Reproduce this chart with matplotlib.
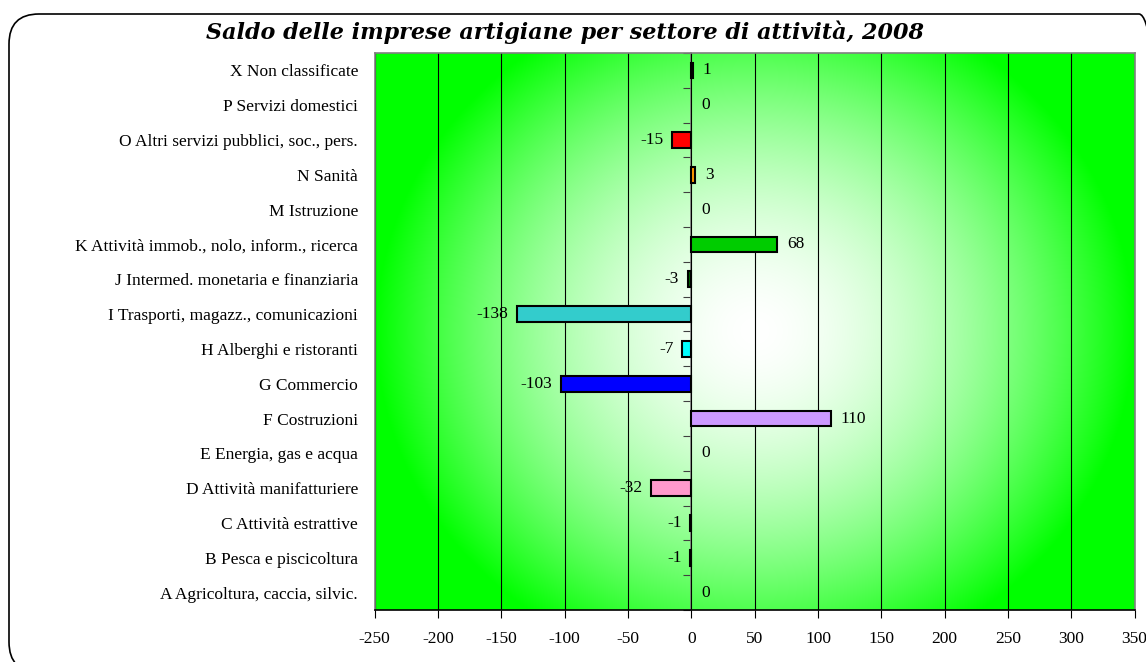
import matplotlib
matplotlib.use("Agg")
import matplotlib.pyplot as plt
from matplotlib.patches import FancyBboxPatch
import numpy as np

# categories from bottom to top
categories = [
    "A Agricoltura, caccia, silvic.",
    "B Pesca e piscicoltura",
    "C Attività estrattive",
    "D Attività manifatturiere",
    "E Energia, gas e acqua",
    "F Costruzioni",
    "G Commercio",
    "H Alberghi e ristoranti",
    "I Trasporti, magazz., comunicazioni",
    "J Intermed. monetaria e finanziaria",
    "K Attività immob., nolo, inform., ricerca",
    "M Istruzione",
    "N Sanità",
    "O Altri servizi pubblici, soc., pers.",
    "P Servizi domestici",
    "X Non classificate",
]
values = [0, -1, -1, -32, 0, 110, -103, -7, -138, -3, 68, 0, 3, -15, 0, 1]
bar_colors = [
    "#000000", "#000000", "#000000", "#FF99CC", "#000000", "#CC99FF",
    "#0000FF", "#00FFFF", "#33CCCC", "#006600", "#00CC00", "#000000",
    "#FF9900", "#FF0000", "#000000", "#000000",
]
x_ticks = list(range(-250, 351, 50))
title = "Saldo delle imprese artigiane per settore di attività, 2008"

serif = "Liberation Serif"
fs = 12.5

fig = plt.figure(figsize=(11.46, 6.62), dpi=100)
ax = fig.add_axes([0.327, 0.0785, 0.663, 0.8415])

xmin, xmax = x_ticks[0], x_ticks[-1]
n = len(categories)
ymin, ymax = -0.5, n - 0.5

# radial white -> green background
gx = np.linspace(-1, 1, 400)
gy = np.linspace(-1, 1, 300)
X, Y = np.meshgrid(gx, gy)
r = np.clip(np.sqrt(X ** 2 + (0.8 * Y) ** 2), 0, 1) ** 1.7
img = np.zeros((300, 400, 3))
img[..., 0] = 1 - r
img[..., 1] = 1
img[..., 2] = 1 - r
ax.imshow(img, extent=[xmin, xmax, ymin, ymax], aspect="auto",
          zorder=0, interpolation="bilinear")

ypos = np.arange(n)
edge_w = [1.5 if v != 0 else 0 for v in values]
ax.barh(ypos, values, height=0.45, color=bar_colors,
        edgecolor="black", linewidth=edge_w, zorder=3)

# data labels
for y, v in zip(ypos, values):
    if v < 0:
        ax.annotate(str(v), (v, y), xytext=(-6, 0), textcoords="offset points",
                    ha="right", va="center", fontsize=fs, family=serif, zorder=4)
    else:
        ax.annotate(str(v), (v, y), xytext=(7, 0), textcoords="offset points",
                    ha="left", va="center", fontsize=fs, family=serif, zorder=4)

ax.set_xlim(xmin, xmax)
ax.set_ylim(ymin, ymax)
ax.set_xticks(x_ticks)
ax.set_xticklabels([str(t) for t in x_ticks], fontsize=fs, family=serif)
ax.tick_params(axis="x", direction="out", length=6, pad=9, color="black")

ax.set_yticks(ypos)
ax.set_yticklabels(categories, fontsize=fs, family=serif)
ax.tick_params(axis="y", length=0, pad=12)

ax.grid(axis="x", color="black", linewidth=0.8)

for side in ["left", "top", "right"]:
    ax.spines[side].set_color("#808080")
    ax.spines[side].set_linewidth(1.2)
ax.spines["bottom"].set_color("black")
ax.spines["bottom"].set_linewidth(1.2)

# category axis at x = 0 with boundary ticks
sec = ax.secondary_yaxis((0 - xmin) / (xmax - xmin))
sec.set_yticks(np.arange(n + 1) - 0.5)
sec.set_yticklabels([])
sec.tick_params(length=6, color="#404040", direction="out")
sec.spines["left"].set_color("#808080")
sec.spines["left"].set_linewidth(1.2)

fig.text(0.493, 1 - 32 / 662, title, ha="center", va="center",
         fontsize=16, family="DejaVu Serif", weight="bold", style="italic")

border = FancyBboxPatch((0.09, -0.1), 11.6, 6.62 - 0.14 + 0.1,
                        boxstyle="round,pad=0,rounding_size=0.3",
                        transform=fig.dpi_scale_trans, facecolor="none",
                        edgecolor="black", linewidth=1.2)
fig.patches.append(border)

fig.savefig("out.png", dpi=100)
